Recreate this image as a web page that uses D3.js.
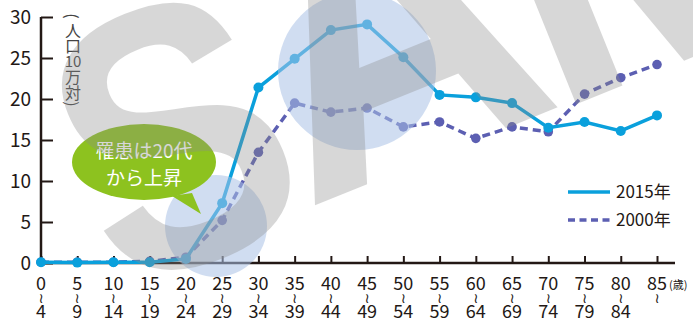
<!DOCTYPE html>
<html>
<head>
<meta charset="utf-8">
<script src="https://cdn.jsdelivr.net/npm/d3@7/dist/d3.min.js"></script>
<style>
  body { margin: 0; background: #fff; }
  svg { display: block; font-family: "Noto Sans CJK JP", "Noto Sans", sans-serif; }
</style>
</head>
<body>
<div id="chart"></div>
<script>
// age group starts / ends
const ageStart = ["0","5","10","15","20","25","30","35","40","45","50","55","60","65","70","75","80","85"];
const ageEnd   = ["4","9","14","19","24","29","34","39","44","49","54","59","64","69","74","79","84",""];
// incidence per 100k
const y2015 = [0.1,0.05,0.1,0.1,0.5,7.3,21.4,24.9,28.4,29.1,25.1,20.5,20.2,19.5,16.5,17.2,16.1,18.0];
const y2000 = [0.1,0.1,0.1,0.2,0.7,5.2,13.5,19.5,18.4,18.9,16.6,17.2,15.2,16.6,16.0,20.6,22.6,24.2];
const yTicks = [0,5,10,15,20,25,30];
const seriesNames = ["2015年","2000年"];

const W = 693, H = 322;
const ink = "#231815";
const blue = "#0aa0dc", purple = "#5c5fb2";

const svg = d3.select("#chart").append("svg").attr("width", W).attr("height", H);

const x = d3.scalePoint().domain(ageStart).range([41, 657]);
const y = d3.scaleLinear().domain([0, 30]).range([263, 17]);

// y axis
const yAxis = svg.append("g").attr("transform", "translate(41,0)")
  .call(d3.axisRight(y).tickValues(yTicks).tickSize(12).tickFormat(""));
yAxis.select(".domain").attr("d", "M0,17V263").attr("stroke", ink).attr("stroke-width", 2.5);
yAxis.selectAll(".tick line").attr("stroke", ink).attr("stroke-width", 2);
svg.append("g").selectAll("text").data(yTicks).join("text")
  .attr("x", 31).attr("y", d => y(d) + 7)
  .attr("text-anchor", "end").attr("font-size", 19).attr("fill", ink)
  .text(d => d);

// x axis
const xAxis = svg.append("g").attr("transform", "translate(0,263)")
  .call(d3.axisTop(x).tickSize(7).tickFormat(""));
xAxis.select(".domain").attr("d", "M41,0H675").attr("stroke", ink).attr("stroke-width", 2.5);
xAxis.selectAll(".tick line").attr("stroke", ink).attr("stroke-width", 2);

const xl = svg.append("g").attr("fill", ink).attr("text-anchor", "middle");
xl.selectAll(".s").data(ageStart).join("text")
  .attr("x", d => x(d)).attr("y", 290).attr("font-size", 18).text(d => d);
xl.selectAll(".e").data(ageEnd).join("text")
  .attr("x", (d, i) => x(ageStart[i])).attr("y", 318).attr("font-size", 18).text(d => d);
xl.selectAll(".w").data(ageStart).join("text")
  .attr("x", d => x(d)).attr("y", 298).attr("dominant-baseline", "central")
  .attr("font-family", "DejaVu Sans").attr("font-size", 14).text("≀");
svg.append("text").attr("x", 669).attr("y", 289).attr("font-size", 11).attr("fill", ink).text("(歳)");

// y title, vertical
const yTitle = ["(","人","口","10","万","対",")"];
const yTitleY = [16, 30, 45, 60, 76, 92, 104];
svg.append("g").attr("fill", "#444")
  .selectAll("text").data(yTitle).join("text")
  .attr("text-anchor", "middle").attr("dominant-baseline", "central")
  .attr("transform", (d, i) => `translate(73,${yTitleY[i]})` + (d === "(" || d === ")" ? " rotate(90)" : ""))
  .attr("font-size", d => d === "10" ? 15 : 16)
  .text(d => d);

// lines
const line = d3.line().x((d, i) => x(ageStart[i])).y(d => y(d));
svg.append("path").datum(y2000).attr("d", line).attr("fill", "none")
  .attr("stroke", purple).attr("stroke-width", 3.5).attr("stroke-dasharray", "8,5");
svg.append("g").selectAll("circle").data(y2000).join("circle")
  .attr("cx", (d, i) => x(ageStart[i])).attr("cy", d => y(d)).attr("r", 4.8).attr("fill", purple);
svg.append("path").datum(y2015).attr("d", line).attr("fill", "none")
  .attr("stroke", blue).attr("stroke-width", 3.5);
svg.append("g").selectAll("circle").data(y2015).join("circle")
  .attr("cx", (d, i) => x(ageStart[i])).attr("cy", d => y(d)).attr("r", 5).attr("fill", blue);

// highlight circles
svg.append("circle").attr("cx", 357).attr("cy", 71).attr("r", 79).attr("fill", "#a9c1e6").attr("opacity", 0.55);
svg.append("circle").attr("cx", 216).attr("cy", 226).attr("r", 51).attr("fill", "#a9c1e6").attr("opacity", 0.55);

// bubble
const green = "#8dc21f";
svg.append("path").attr("d", "M172,196 L201,214 L192,193 Z").attr("fill", green);
svg.append("ellipse").attr("cx", 144).attr("cy", 162).attr("rx", 72).attr("ry", 38).attr("fill", green);
svg.append("text").attr("x", 144).attr("y", 158).attr("text-anchor", "middle")
  .attr("font-size", 19).attr("fill", "#fff").text("罹患は20代");
svg.append("text").attr("x", 144).attr("y", 185).attr("text-anchor", "middle")
  .attr("font-size", 19).attr("fill", "#fff").text("から上昇");

// legend
const lg = svg.append("g");
lg.append("line").attr("x1", 568).attr("x2", 610).attr("y1", 192).attr("y2", 192)
  .attr("stroke", blue).attr("stroke-width", 3.5);
lg.append("line").attr("x1", 568).attr("x2", 610).attr("y1", 220).attr("y2", 220)
  .attr("stroke", purple).attr("stroke-width", 3.5).attr("stroke-dasharray", "7,4.5");
lg.selectAll("text").data(seriesNames).join("text")
  .attr("x", 616).attr("y", (d, i) => 198 + i * 28).attr("font-size", 17).attr("fill", ink).text(d => d);

// watermark letters, each placed on its own
const wm = svg.append("g").attr("font-family", "Liberation Sans").attr("font-weight", "bold")
  .attr("fill", "#8c8c8c").attr("opacity", 0.34);
wm.append("text").attr("transform", "translate(120,296) rotate(-22) scale(0.88,1)").attr("font-size", 372).text("S");
wm.append("text").attr("transform", "translate(306,209) rotate(-22)").attr("font-size", 390).text("A");
wm.append("text").attr("transform", "translate(552,114) rotate(-22)").attr("font-size", 390).text("M");
</script>
</body>
</html>
